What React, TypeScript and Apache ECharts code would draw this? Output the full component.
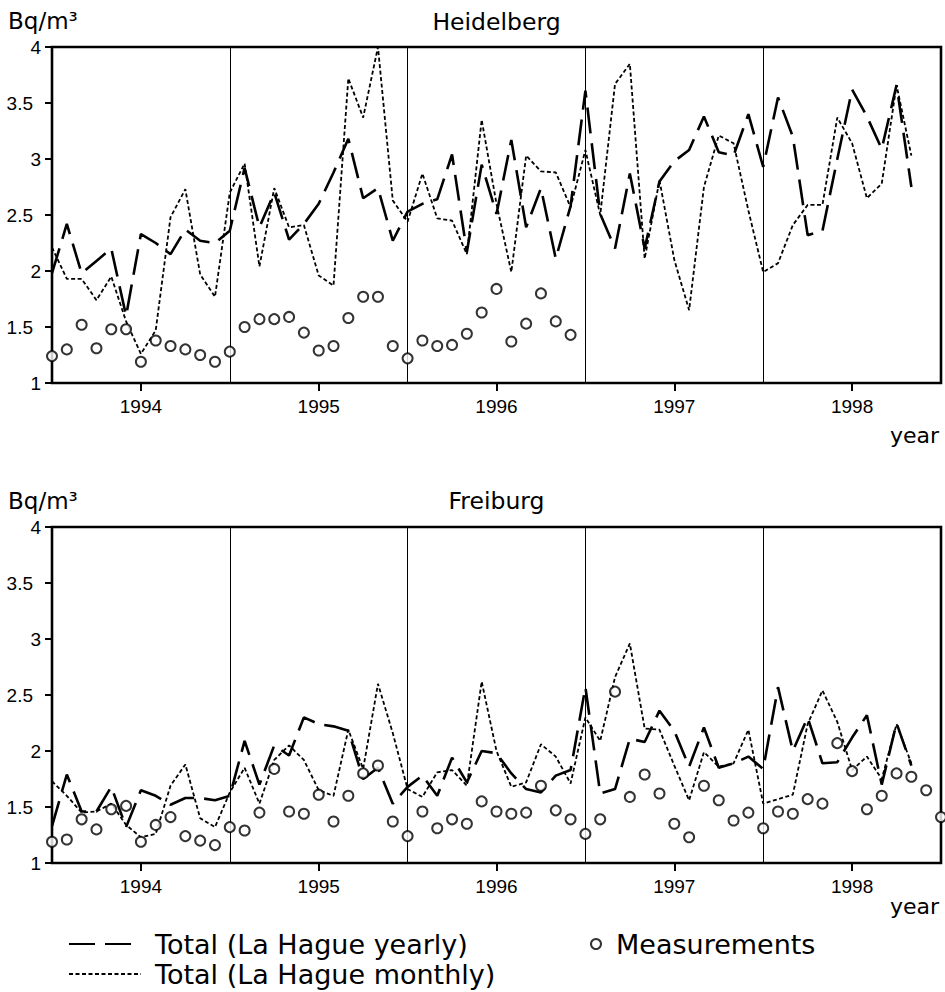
import React, { useEffect, useRef } from "react";
import * as echarts from "echarts";

const months = [
  "1993-07","1993-08","1993-09","1993-10","1993-11","1993-12",
  "1994-01","1994-02","1994-03","1994-04","1994-05","1994-06","1994-07","1994-08","1994-09","1994-10","1994-11","1994-12",
  "1995-01","1995-02","1995-03","1995-04","1995-05","1995-06","1995-07","1995-08","1995-09","1995-10","1995-11","1995-12",
  "1996-01","1996-02","1996-03","1996-04","1996-05","1996-06","1996-07","1996-08","1996-09","1996-10","1996-11","1996-12",
  "1997-01","1997-02","1997-03","1997-04","1997-05","1997-06","1997-07","1997-08","1997-09","1997-10","1997-11","1997-12",
  "1998-01","1998-02","1998-03","1998-04","1998-05","1998-06","1998-07"
];
const yearLabels = ["1994", "1995", "1996", "1997", "1998"];
const yTicks = [1, 1.5, 2, 2.5, 3, 3.5, 4];

const heidelbergYearly = [
  1.98, 2.42, 1.98, 2.09, 2.2, 1.6, 2.33, 2.25, 2.15, 2.37, 2.27, 2.25,
  2.36, 2.92, 2.39, 2.7, 2.28, 2.42, 2.6, 2.88, 3.18, 2.65, 2.74, 2.27,
  2.53, 2.6, 2.64, 3.04, 2.17, 2.95, 2.51, 3.17, 2.39, 2.74, 2.11, 2.58,
  3.61, 2.51, 2.2, 2.87, 2.2, 2.8, 2.98, 3.08, 3.38, 3.06, 3.03, 3.4,
  2.93, 3.55, 3.2, 2.32, 2.36, 3.0, 3.62, 3.38, 3.09, 3.66, 2.75
];
const heidelbergMonthly = [
  2.21, 1.93, 1.93, 1.74, 1.95, 1.55, 1.26, 1.47, 2.48, 2.73, 1.97, 1.77,
  2.7, 2.96, 2.04, 2.74, 2.39, 2.41, 1.96, 1.87, 3.72, 3.37, 4.0, 2.63,
  2.44, 2.87, 2.47, 2.45, 2.15, 3.35, 2.6, 1.99, 3.03, 2.89, 2.88, 2.57,
  3.08, 2.5, 3.67, 3.85, 2.11, 2.81, 2.1, 1.65, 2.75, 3.21, 3.14, 2.54,
  1.99, 2.07, 2.41, 2.59, 2.59, 3.37, 3.14, 2.65, 2.78, 3.66, 3.03
];
const heidelbergMeasured = [
  1.24, 1.3, 1.52, 1.31, 1.48, 1.48, 1.19, 1.38, 1.33, 1.3, 1.25, 1.19,
  1.28, 1.5, 1.57, 1.57, 1.59, 1.45, 1.29, 1.33, 1.58, 1.77, 1.77, 1.33,
  1.22, 1.38, 1.33, 1.34, 1.44, 1.63, 1.84, 1.37, 1.53, 1.8, 1.55, 1.43
];
const freiburgYearly = [
  1.33, 1.79, 1.46, 1.46, 1.68, 1.32, 1.65, 1.6, 1.52, 1.58, 1.58, 1.56,
  1.6, 2.09, 1.7, 2.05, 1.96, 2.3, 2.24, 2.22, 2.18, 1.75, 1.85, 1.53,
  1.68, 1.78, 1.6, 1.94, 1.72, 2.0, 1.98, 1.8, 1.66, 1.63, 1.78, 1.83,
  2.57, 1.62, 1.66, 2.11, 2.08, 2.36, 2.18, 1.86, 2.21, 1.85, 1.89, 1.95,
  1.84, 2.57, 2.0, 2.3, 1.89, 1.9, 2.12, 2.32, 1.7, 2.25, 1.87
];
const freiburgMonthly = [
  1.73, 1.6, 1.45, 1.46, 1.53, 1.34, 1.23, 1.26, 1.69, 1.88, 1.4, 1.32,
  1.63, 1.85, 1.53, 1.92, 2.05, 1.92, 1.65, 1.6, 2.19, 1.84, 2.6, 2.16,
  1.66, 1.59, 1.81, 1.83, 1.69, 2.62, 2.0, 1.68, 1.72, 2.06, 1.95, 1.71,
  2.3, 2.09, 2.66, 2.96, 2.2, 2.19, 1.87, 1.56, 1.99, 1.86, 1.89, 2.19,
  1.53, 1.57, 1.61, 2.24, 2.54, 2.26, 1.83, 1.95, 1.75, 2.24, 1.89
];
const freiburgMeasured = [
  1.19, 1.21, 1.39, 1.3, 1.48, 1.51, 1.19, 1.34, 1.41, 1.24, 1.2, 1.16,
  1.32, 1.29, 1.45, 1.84, 1.46, 1.44, 1.61, 1.37, 1.6, 1.8, 1.87, 1.37,
  1.24, 1.46, 1.31, 1.39, 1.35, 1.55, 1.46, 1.44, 1.45, 1.69, 1.47, 1.39,
  1.26, 1.39, 2.53, 1.59, 1.79, 1.62, 1.35, 1.23, 1.69, 1.56, 1.38, 1.45,
  1.31, 1.46, 1.44, 1.57, 1.53, 2.07, 1.82, 1.48, 1.6, 1.8, 1.77, 1.65, 1.41
];

const NAME_YEARLY = "Total (La Hague yearly)";
const NAME_MONTHLY = "Total (La Hague monthly)";
const NAME_MEAS = "Measurements";

const TICK_FONT = "'Liberation Sans', Arial, sans-serif";
const TEXT_FONT = "'DejaVu Sans', 'Liberation Sans', sans-serif";

const isYearTick = (_i: number, v: string) =>
  v.endsWith("-01") && yearLabels.includes(v.slice(0, 4));
const isSplit = (i: number, v: string) =>
  v.endsWith("-07") && i > 0 && i < months.length - 1;

function makeX(gridIndex: number) {
  return {
    type: "category",
    gridIndex,
    data: months,
    boundaryGap: false,
    axisLine: { show: false },
    axisTick: {
      show: true,
      interval: isYearTick,
      length: 8,
      inside: false,
      lineStyle: { color: "#000", width: 2 },
    },
    axisLabel: {
      interval: isYearTick,
      formatter: (v: string) => v.slice(0, 4),
      color: "#000",
      fontSize: 19,
      fontFamily: TICK_FONT,
      margin: 14,
    },
    splitLine: {
      show: true,
      interval: isSplit,
      lineStyle: { color: "#000", width: 1 },
    },
  };
}

function makeY(gridIndex: number) {
  return {
    type: "value",
    gridIndex,
    min: yTicks[0],
    max: yTicks[yTicks.length - 1],
    interval: 0.5,
    axisLine: { show: false },
    axisTick: {
      show: true,
      length: 7,
      lineStyle: { color: "#000", width: 2 },
    },
    splitLine: { show: false },
    axisLabel: {
      margin: 11,
      formatter: (v: number) =>
        Number.isInteger(v) ? `{i|${v}}` : `{f|${v}}`,
      rich: {
        i: { fontSize: 19, fontFamily: TICK_FONT, color: "#000" },
        f: {
          fontSize: 19,
          fontFamily: TICK_FONT,
          color: "#000",
          padding: [0, 8, 0, 0],
        },
      },
    },
  };
}

function panelSeries(
  idx: number,
  yearly: number[],
  monthly: number[],
  measured: number[]
) {
  return [
    {
      name: NAME_MONTHLY,
      type: "line",
      xAxisIndex: idx,
      yAxisIndex: idx,
      data: monthly,
      symbol: "none",
      lineStyle: { color: "#000", width: 1.8, type: [4, 2.5] },
      itemStyle: { color: "#000" },
      z: 3,
    },
    {
      name: NAME_YEARLY,
      type: "line",
      xAxisIndex: idx,
      yAxisIndex: idx,
      data: yearly,
      symbol: "none",
      lineStyle: { color: "#000", width: 2.6, type: [26, 10] },
      itemStyle: { color: "#000" },
      z: 4,
    },
    {
      name: NAME_MEAS,
      type: "scatter",
      xAxisIndex: idx,
      yAxisIndex: idx,
      data: measured,
      symbol: "emptyCircle",
      symbolSize: 10,
      itemStyle: { color: "#000", borderColor: "#000", borderWidth: 1.5 },
      z: 5,
    },
  ];
}

function textEl(
  text: string,
  x: number,
  y: number,
  size: number,
  align: string
) {
  return {
    type: "text",
    x,
    y,
    silent: true,
    style: {
      text,
      fill: "#000",
      fontSize: size,
      fontFamily: TEXT_FONT,
      align,
      verticalAlign: "middle",
    },
  };
}

const legendText = {
  color: "#000",
  fontSize: 27,
  fontFamily: TEXT_FONT,
  lineHeight: 28,
};

function lineLegend(name: string, top: number) {
  return {
    orient: "horizontal",
    left: 63,
    top,
    itemWidth: 72,
    itemHeight: 14,
    selectedMode: false,
    data: [name],
    itemStyle: { opacity: 0 },
    textStyle: { ...legendText, padding: [0, 0, 0, 9] },
  };
}

export default function App() {
  const ref = useRef<HTMLDivElement>(null);

  useEffect(() => {
    if (!ref.current) return;
    const chart = echarts.init(ref.current, undefined, { renderer: "svg" });
    const option: any = {
      animation: false,
      backgroundColor: "#fff",
      grid: [
        {
          left: 52,
          top: 47,
          width: 889,
          height: 336,
          show: true,
          borderColor: "#000",
          borderWidth: 2.6,
          backgroundColor: "transparent",
        },
        {
          left: 52,
          top: 527,
          width: 889,
          height: 336,
          show: true,
          borderColor: "#000",
          borderWidth: 2.6,
          backgroundColor: "transparent",
        },
      ],
      xAxis: [makeX(0), makeX(1)],
      yAxis: [makeY(0), makeY(1)],
      legend: [
        lineLegend(NAME_YEARLY, 925),
        lineLegend(NAME_MONTHLY, 955),
        {
          orient: "horizontal",
          left: 585,
          top: 925,
          itemWidth: 10,
          itemHeight: 10,
          selectedMode: false,
          data: [NAME_MEAS],
          itemStyle: { borderWidth: 1.4 },
          textStyle: { ...legendText, padding: [0, 0, 0, 10] },
        },
      ],
      graphic: [
        textEl("Heidelberg", 496.5, 22, 23.5, "center"),
        textEl("Bq/m³", 8, 21, 23, "left"),
        textEl("year", 939, 435, 22, "right"),
        textEl("Freiburg", 496.5, 501, 23.5, "center"),
        textEl("Bq/m³", 8, 501, 23, "left"),
        textEl("year", 939, 906, 22, "right"),
      ],
      series: [
        ...panelSeries(0, heidelbergYearly, heidelbergMonthly, heidelbergMeasured),
        ...panelSeries(1, freiburgYearly, freiburgMonthly, freiburgMeasured),
      ],
    };
    chart.setOption(option);
    return () => chart.dispose();
  }, []);

  return (
    <div
      ref={ref}
      style={{
        position: "absolute",
        left: 0,
        top: 0,
        width: 945,
        height: 992,
        background: "#fff",
      }}
    />
  );
}
